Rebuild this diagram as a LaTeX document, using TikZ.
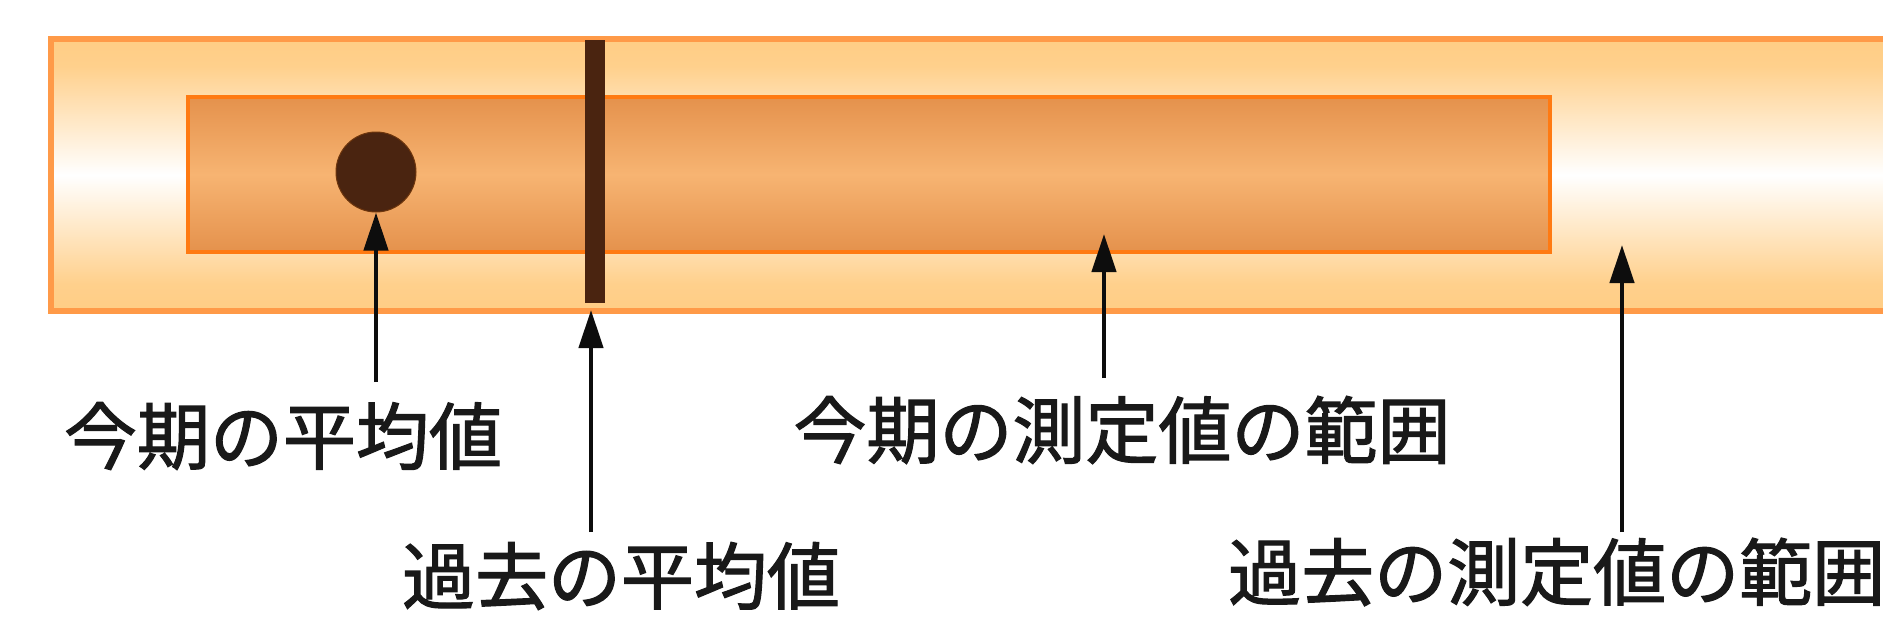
\documentclass[tikz,border=0pt]{standalone}
\usepackage{fontspec}
\newfontfamily\jp[FakeBold=1.6]{Noto Sans CJK JP}
\usetikzlibrary{arrows.meta}
\definecolor{outerb}{HTML}{FF9A48}
\definecolor{oedge}{HTML}{FFC060}
\definecolor{omid}{HTML}{FFD08C}
\definecolor{innerb}{HTML}{FF7A12}
\definecolor{iedge}{HTML}{DE8640}
\definecolor{imid}{HTML}{F7B472}
\definecolor{brownmark}{HTML}{4A2410}
\pgfdeclareverticalshading{outershade}{100bp}{color(0bp)=(oedge); color(30bp)=(omid); color(50bp)=(white); color(70bp)=(omid); color(100bp)=(oedge)}
\pgfdeclareverticalshading{innershade}{100bp}{color(0bp)=(iedge); color(25bp)=(iedge!75!imid); color(50bp)=(imid); color(75bp)=(iedge!75!imid); color(100bp)=(iedge)}
\begin{document}
\begin{tikzpicture}[x=1pt,y=-1pt,
  lbl/.style={font=\jp\fontsize{73}{80}\selectfont, inner sep=0pt, text=black!90},
  arr/.style={line width=4.5pt, draw=black!95, -{Triangle[length=38pt,width=24pt]}},
  box/.style={rectangle, inner sep=0pt, anchor=north west}]
\useasboundingbox (0,0) rectangle (1883,632);
\clip (0,0) rectangle (1883,632);
\fill[white] (0,0) rectangle (1883,632);
% outer range (past values)
\node[box, draw=outerb, line width=6pt, shade, shading=outershade, minimum width=1950pt, minimum height=272pt] (outer) at (48,36) {};
% inner range (current values)
\node[box, draw=innerb, line width=4pt, shade, shading=innershade, minimum width=1362pt, minimum height=155pt] (inner) at (186,95) {};
% current mean
\node[circle, fill=brownmark, draw=brownmark!80!orange, line width=1pt, minimum size=80pt, inner sep=0pt] (cmean) at (376,172) {};
% past mean bar
\node[box, fill=brownmark, minimum width=20pt, minimum height=263pt] (pmean) at (585,40) {};
% labels
\node[lbl] (l1) at (283,436) {今期の平均値};
\node[lbl] (l2) at (621,576) {過去の平均値};
\node[lbl] (l3) at (1122,430) {今期の測定値の範囲};
\node[lbl, anchor=west] (l4) at (1228,572) {過去の測定値の範囲};
% arrow ends
\coordinate (s1) at (376,382);
\coordinate (s2) at (591,532);
\coordinate (s3) at (1104,378);
\coordinate (s4) at (1622,532);
\coordinate (e2) at (591,310);
\coordinate (e3) at (1104,234);
\coordinate (e4) at (1622,245);
\draw[arr] (s1) -- (cmean.south);
\draw[arr] (s2) -- (e2);
\draw[arr] (s3) -- (e3);
\draw[arr] (s4) -- (e4);
\end{tikzpicture}
\end{document}
